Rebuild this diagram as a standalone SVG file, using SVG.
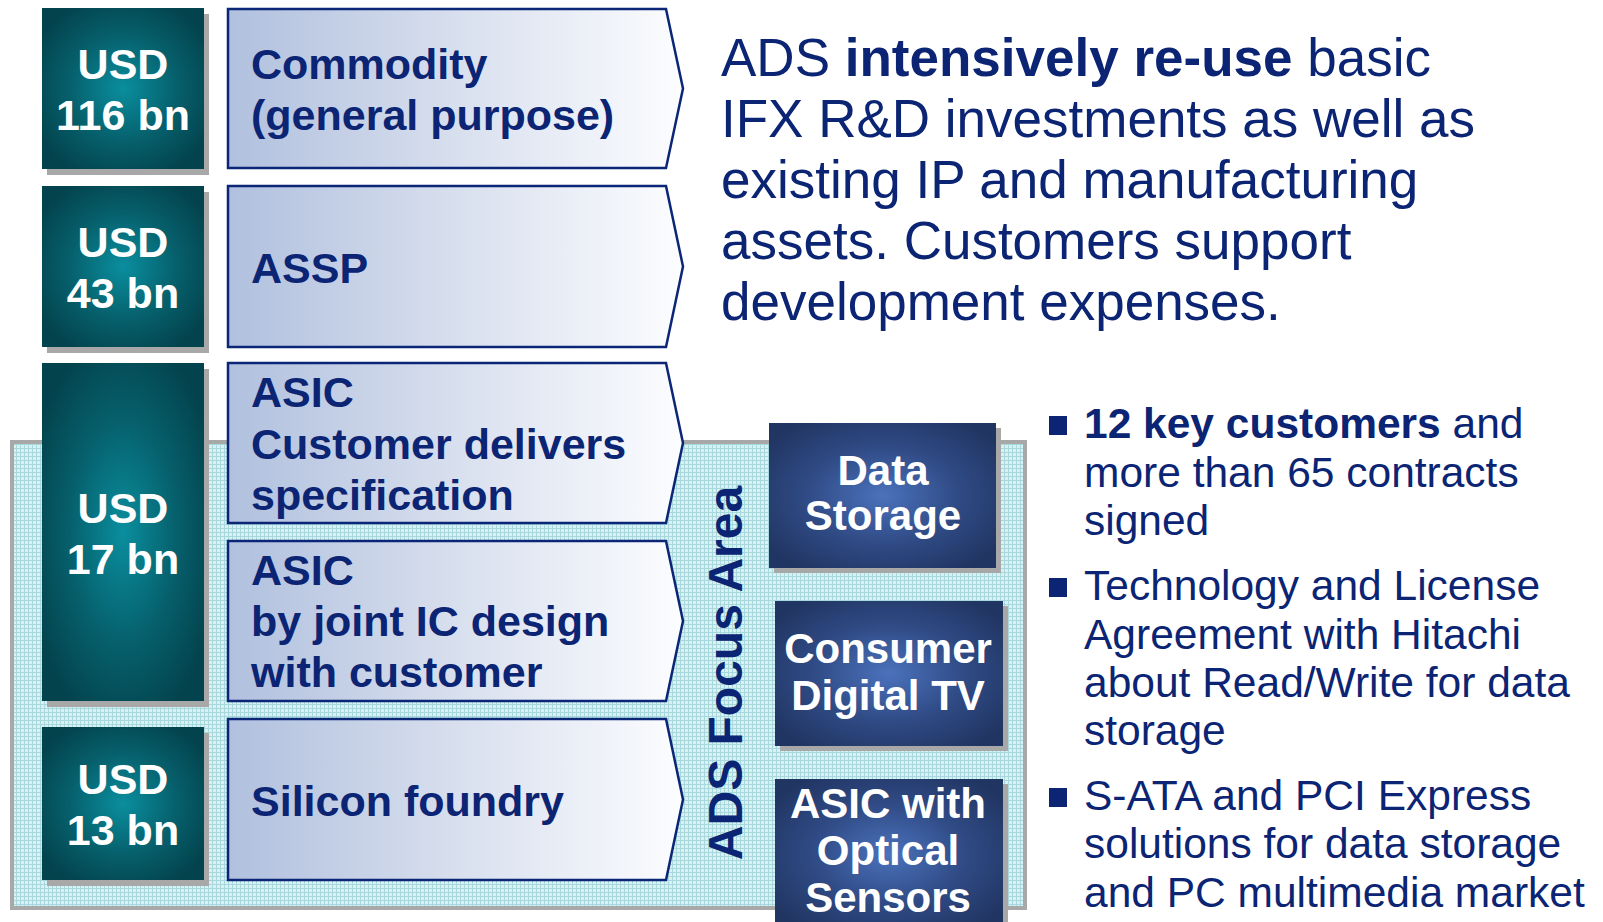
<svg xmlns="http://www.w3.org/2000/svg" width="1603" height="922" viewBox="0 0 1603 922">
  <defs>
    <radialGradient id="tealGrad" cx="0.5" cy="0.5" r="0.6">
      <stop offset="0" stop-color="#0a8e9e"/>
      <stop offset="0.55" stop-color="#06606c"/>
      <stop offset="1" stop-color="#03434d"/>
    </radialGradient>
    <radialGradient id="navyGrad" cx="0.5" cy="0.5" r="0.62">
      <stop offset="0" stop-color="#4b72bc"/>
      <stop offset="0.55" stop-color="#2f4a84"/>
      <stop offset="1" stop-color="#213562"/>
    </radialGradient>
    <linearGradient id="chevGrad" x1="0" y1="0" x2="1" y2="0">
      <stop offset="0" stop-color="#b0c0de"/>
      <stop offset="0.45" stop-color="#d4dcec"/>
      <stop offset="1" stop-color="#fcfdff"/>
    </linearGradient>
    <pattern id="grid" x="0" y="0" width="4" height="4" patternUnits="userSpaceOnUse">
      <rect width="4" height="4" fill="#daf1f3"/>
      <path d="M0,0.5 H4 M0.5,0 V4" stroke="#a6d8dd" stroke-width="1"/>
    </pattern>
    <style>
      .shadow { fill: #a8a8a8; }
      .teal { fill: url(#tealGrad); }
      .navy { fill: url(#navyGrad); }
      .chev { fill: url(#chevGrad); stroke: #0b2677; stroke-width: 2.5; stroke-linejoin: miter; }
      .wt { font-family: "Liberation Sans", Arial, sans-serif; font-weight: bold; fill: #ffffff; text-anchor: middle; }
      .usd { font-size: 43px; }
      .box { font-size: 42px; }
      .ct { font-family: "Liberation Sans", Arial, sans-serif; font-weight: bold; font-size: 43px; fill: #0b2473; }
      .vert { font-family: "Liberation Sans", Arial, sans-serif; font-weight: bold; font-size: 48px; fill: #0b2473; text-anchor: middle; }
      .para { font-family: "Liberation Sans", Arial, sans-serif; font-size: 53px; fill: #0b2473; }
      .bul { font-family: "Liberation Sans", Arial, sans-serif; font-size: 42.5px; fill: #0b2473; }
      .b { font-weight: bold; }
      .sq { fill: #0b2473; }
    </style>
  </defs>

  <g id="focus-area">
    <rect x="12" y="442" width="1013" height="466" fill="url(#grid)" stroke="#a8a8a8" stroke-width="4"/>
    <text class="vert" transform="translate(742,673) rotate(-90)">ADS Focus Area</text>
  </g>

  <g id="usd-116">
    <rect class="shadow" x="47" y="14" width="162" height="161"/>
    <rect class="teal" x="42" y="8" width="162" height="161"/>
    <text class="wt usd" x="123" y="79">USD</text>
    <text class="wt usd" x="123" y="130">116 bn</text>
  </g>
  <g id="usd-43">
    <rect class="shadow" x="47" y="192" width="162" height="161"/>
    <rect class="teal" x="42" y="186" width="162" height="161"/>
    <text class="wt usd" x="123" y="257">USD</text>
    <text class="wt usd" x="123" y="308">43 bn</text>
  </g>
  <g id="usd-17">
    <rect class="shadow" x="47" y="369" width="162" height="338"/>
    <rect class="teal" x="42" y="363" width="162" height="338"/>
    <text class="wt usd" x="123" y="523">USD</text>
    <text class="wt usd" x="123" y="574">17 bn</text>
  </g>
  <g id="usd-13">
    <rect class="shadow" x="47" y="733" width="162" height="153"/>
    <rect class="teal" x="42" y="727" width="162" height="153"/>
    <text class="wt usd" x="123" y="794">USD</text>
    <text class="wt usd" x="123" y="845">13 bn</text>
  </g>

  <g id="commodity">
    <path class="chev" d="M228,9 L666,9 L683,88.5 L666,168 L228,168 Z"/>
    <text class="ct" x="251" y="79">Commodity</text>
    <text class="ct" x="251" y="130">(general purpose)</text>
  </g>
  <g id="assp">
    <path class="chev" d="M228,186 L666,186 L683,266.5 L666,347 L228,347 Z"/>
    <text class="ct" x="251" y="283">ASSP</text>
  </g>
  <g id="asic-spec">
    <path class="chev" d="M228,363 L666,363 L683,443 L666,523 L228,523 Z"/>
    <text class="ct" x="251" y="407">ASIC</text>
    <text class="ct" x="251" y="459">Customer delivers</text>
    <text class="ct" x="251" y="510">specification</text>
  </g>
  <g id="asic-joint">
    <path class="chev" d="M228,541 L666,541 L683,621 L666,701 L228,701 Z"/>
    <text class="ct" x="251" y="585">ASIC</text>
    <text class="ct" x="251" y="636">by joint IC design</text>
    <text class="ct" x="251" y="687">with customer</text>
  </g>
  <g id="foundry">
    <path class="chev" d="M228,719 L666,719 L683,799.5 L666,880 L228,880 Z"/>
    <text class="ct" x="251" y="816">Silicon foundry</text>
  </g>

  <g id="data-storage">
    <rect class="shadow" x="774" y="428" width="227" height="145"/>
    <rect class="navy" x="769" y="423" width="227" height="145"/>
    <text class="wt box" x="883" y="485">Data</text>
    <text class="wt box" x="883" y="530">Storage</text>
  </g>
  <g id="consumer-tv">
    <rect class="shadow" x="780" y="606" width="228" height="145"/>
    <rect class="navy" x="775" y="601" width="228" height="145"/>
    <text class="wt box" x="888" y="663">Consumer</text>
    <text class="wt box" x="888" y="710">Digital TV</text>
  </g>
  <g id="asic-optical">
    <rect class="shadow" x="780" y="784" width="228" height="150"/>
    <rect class="navy" x="775" y="779" width="228" height="150"/>
    <text class="wt box" x="888" y="818">ASIC with</text>
    <text class="wt box" x="888" y="865">Optical</text>
    <text class="wt box" x="888" y="912">Sensors</text>
  </g>

  <g id="summary">
    <text class="para" x="721" y="76">ADS <tspan class="b">intensively re-use</tspan> basic</text>
    <text class="para" x="721" y="137">IFX R&amp;D investments as well as</text>
    <text class="para" x="721" y="198">existing IP and manufacturing</text>
    <text class="para" x="721" y="259">assets. Customers support</text>
    <text class="para" x="721" y="320">development expenses.</text>
  </g>

  <g id="bullets">
    <rect class="sq" x="1049" y="416" width="18" height="19"/>
    <text class="bul" x="1084" y="438"><tspan class="b">12 key customers</tspan> and</text>
    <text class="bul" x="1084" y="487">more than 65 contracts</text>
    <text class="bul" x="1084" y="535">signed</text>
    <rect class="sq" x="1049" y="578" width="18" height="19"/>
    <text class="bul" x="1084" y="600">Technology and License</text>
    <text class="bul" x="1084" y="649">Agreement with Hitachi</text>
    <text class="bul" x="1084" y="697">about Read/Write for data</text>
    <text class="bul" x="1084" y="745">storage</text>
    <rect class="sq" x="1049" y="788" width="18" height="19"/>
    <text class="bul" x="1084" y="810">S-ATA and PCI Express</text>
    <text class="bul" x="1084" y="858">solutions for data storage</text>
    <text class="bul" x="1084" y="907">and PC multimedia market</text>
  </g>
</svg>
